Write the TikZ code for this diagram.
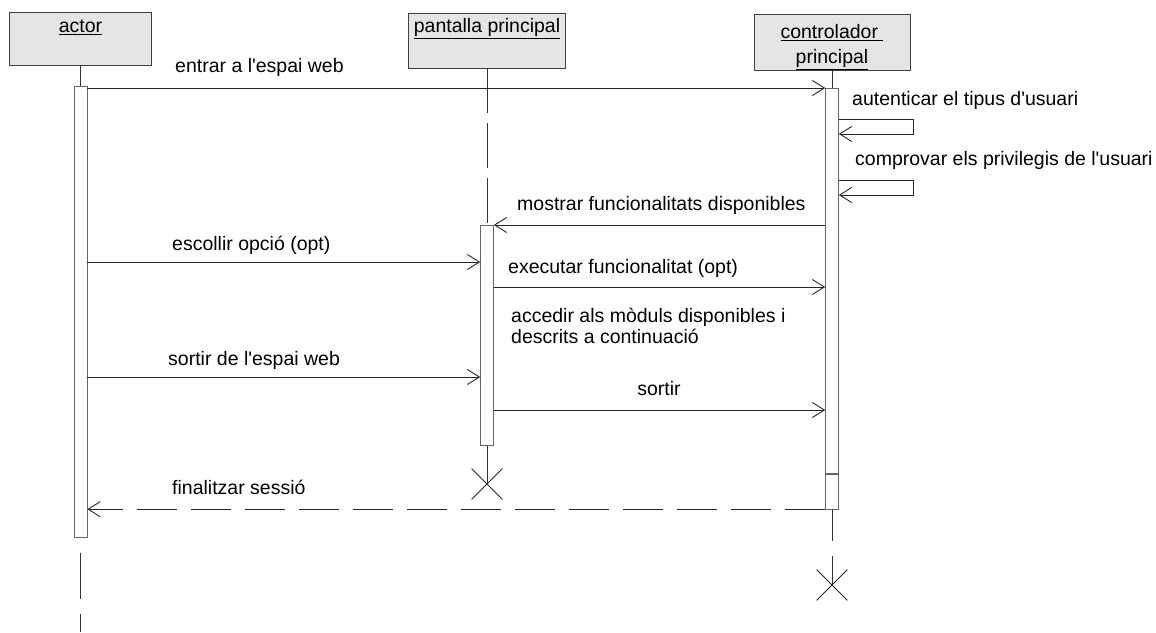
\documentclass[tikz,border=0pt]{standalone}
\usepackage{fontspec}
\setmainfont{Liberation Sans}
\usetikzlibrary{arrows.meta,shapes.misc}
\newcommand{\apos}{\textquotesingle}

\begin{document}
\begin{tikzpicture}[x=1pt,y={(0pt,-1pt)},
  obj/.style n args={2}{draw=black!75,fill=black!10,line width=0.8pt,rectangle,minimum width=#1,minimum height=#2,inner sep=0pt},
  objlbl/.style={inner sep=0pt,align=center,font=\fontsize{19.5}{25}\selectfont},
  act/.style={draw=black!60,fill=white,line width=0.6pt,rectangle,minimum width=13pt,inner sep=0pt,anchor=north},
  life/.style={black!80,line width=0.8pt},
  msg/.style={black!85,line width=0.9pt,-{Straight Barb[length=12pt,width=15pt]}},
  ret/.style={msg,dash pattern=on 40pt off 14pt},
  lbl/.style={anchor=base west,inner sep=0pt,font=\fontsize{19.5}{23}\selectfont},
  destroy/.style={cross out,draw=black!85,line width=0.8pt,minimum size=30pt,inner sep=0pt}]
\useasboundingbox (0,0) rectangle (1156,632);

% objects
\node[obj={142}{53}] (actor) at (80.5,38.5) {};
\node[obj={157}{55}] (pant) at (487,40.5) {};
\node[obj={156}{56}] (ctrl) at (832,42) {};
\node[objlbl,anchor=base] (actorlbl) at ([yshift=-21pt]actor.north) {\underline{actor}};
\node[objlbl,anchor=base] (pantlbl) at ([yshift=-20pt]pant.north) {\underline{pantalla principal}};
\node[objlbl,anchor=north] (ctrllbl) at ([yshift=-11pt]ctrl.north) {\underline{controlador\ }\\\underline{principal}};

% activations
\node[act,minimum height=451pt] (abar) at (80.5,86) {};
\node[act,minimum height=220pt] (pbar) at (487,225) {};
\node[act,minimum height=385pt] (cbar) at (832,88) {};
\node[act,minimum height=35pt] (cbar2) at (cbar.south) {};

% destruction marks
\node[destroy] (px) at (487,484) {};
\node[destroy] (cx) at (832,585) {};
\coordinate (aend) at (80.5,632);

% lifelines
\draw[life] (actor.south) -- (abar.north);
\draw[life,dash pattern=on 46pt off 15pt,dash phase=46pt] (abar.south) -- (aend);
\draw[life,dash pattern=on 45pt off 10pt] (pant.south) -- (pbar.north);
\draw[life] (pbar.south) -- (px.center);
\draw[life] (ctrl.south) -- (cbar.north);
\draw[life,dash pattern=on 32pt off 15pt] (cbar2.south) -- (cx.center);

% message levels
\coordinate (m1) at (0,262);
\coordinate (m2) at (0,287);
\coordinate (m3) at (0,377);
\coordinate (m4) at (0,410);

% messages
\draw[msg] (abar.east |- cbar.north) -- (cbar.north west);
\foreach \ya/\yb in {119/134,180/195} {
  \coordinate (sa) at (0,\ya);
  \coordinate (sb) at (0,\yb);
  \draw[msg] (cbar.east |- sa) -- ++(75,0) |- (cbar.east |- sb);
}
\draw[msg] (cbar.west |- pbar.north) -- (pbar.north east);
\draw[msg] (abar.east |- m1) -- (pbar.west |- m1);
\draw[msg] (pbar.east |- m2) -- (cbar.west |- m2);
\draw[msg] (abar.east |- m3) -- (pbar.west |- m3);
\draw[msg] (pbar.east |- m4) -- (cbar.west |- m4);
\draw[ret] (cbar2.south west) -- (abar.east |- cbar2.south);

% labels
\node[lbl] (l1) at (175,72) {entrar a l\apos espai web};
\node[lbl] (l2) at (852,105) {autenticar el tipus d\apos usuari};
\node[lbl] (l3) at (855,165) {comprovar els privilegis de l\apos usuari};
\node[lbl] (l4) at (517,210) {mostrar funcionalitats disponibles};
\node[lbl] (l5) at (172,250) {escollir opció (opt)};
\node[lbl] (l6) at (508,273) {executar funcionalitat (opt)};
\node[lbl,anchor=north west,align=left,font=\fontsize{19.5}{21}\selectfont] (l7) at (511,308)
  {accedir als mòduls disponibles i\\descrits a continuació};
\node[lbl] (l8) at (168,365) {sortir de l\apos espai web};
\node[lbl,anchor=base] (l9) at (659,395) {sortir};
\node[lbl] (l10) at (172,494) {finalitzar sessió};
\end{tikzpicture}
\end{document}
